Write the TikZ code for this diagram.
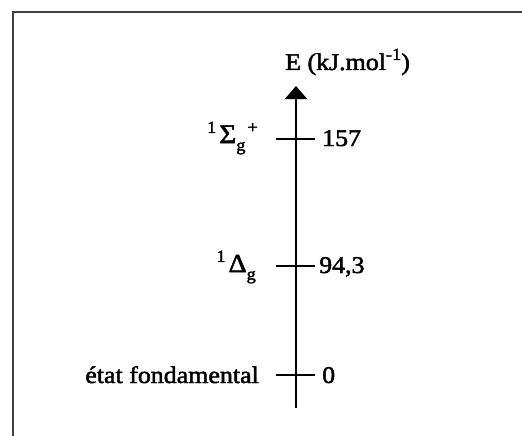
\documentclass[tikz,border=0pt]{standalone}
\usepackage{fontspec}
\setmainfont{Liberation Serif}[FakeStretch=1.08,FakeBold=2]
\usetikzlibrary{arrows.meta}
\newcommand\supx[1]{\raisebox{0.42em}{\fontsize{17}{17}\selectfont #1}}
\newcommand\subx[1]{\raisebox{-0.32em}{\fontsize{17}{17}\selectfont #1}}
\begin{document}
\begin{tikzpicture}[x=1pt,y=-1pt,
  lbl/.style={inner sep=0pt,font=\fontsize{24}{26}\selectfont},
  tick/.style={line width=2.4pt},
  frameline/.style={line width=2pt,draw=black!75}]
\useasboundingbox (0,0) rectangle (522,436);
\draw[frameline] (13,436) -- (13,12) -- (522,12);
\coordinate (bot) at (296,408);
\coordinate (top) at (296,86);
\draw[line width=2.4pt,-{Triangle[width=22pt,length=13pt]}] (bot) -- (top);
\node[lbl,anchor=base west] (title) at (285,70) {E (kJ.mol\supx{-1})};
% ticks
\coordinate (t1l) at (276,139); \coordinate (t1r) at (315,139);
\coordinate (t2l) at (276,266); \coordinate (t2r) at (315,266);
\coordinate (t3l) at (276,375); \coordinate (t3r) at (315,375);
\draw[tick] (t1l) -- (t1r);
\draw[tick] (t2l) -- (t2r);
\draw[tick] (t3l) -- (t3r);
\node[lbl,anchor=base west] (v1) at (322,146) {157};
\node[lbl,anchor=base west] (v2) at (319,273) {94,3};
\node[lbl,anchor=base west] (v3) at (322,383) {0};
\node[lbl,anchor=base east] (s1) at (258,143) {\supx{1}\hspace{3pt}{\fontsize{27}{27}\selectfont Σ}\subx{g}\hspace{2pt}\supx{+}};
\node[lbl,anchor=base east] (s2) at (256,272) {\supx{1}\hspace{3pt}{\fontsize{26}{26}\selectfont Δ}\subx{g}};
\node[lbl,anchor=base east] (s3) at (259,383) {état fondamental};
\end{tikzpicture}
\end{document}
